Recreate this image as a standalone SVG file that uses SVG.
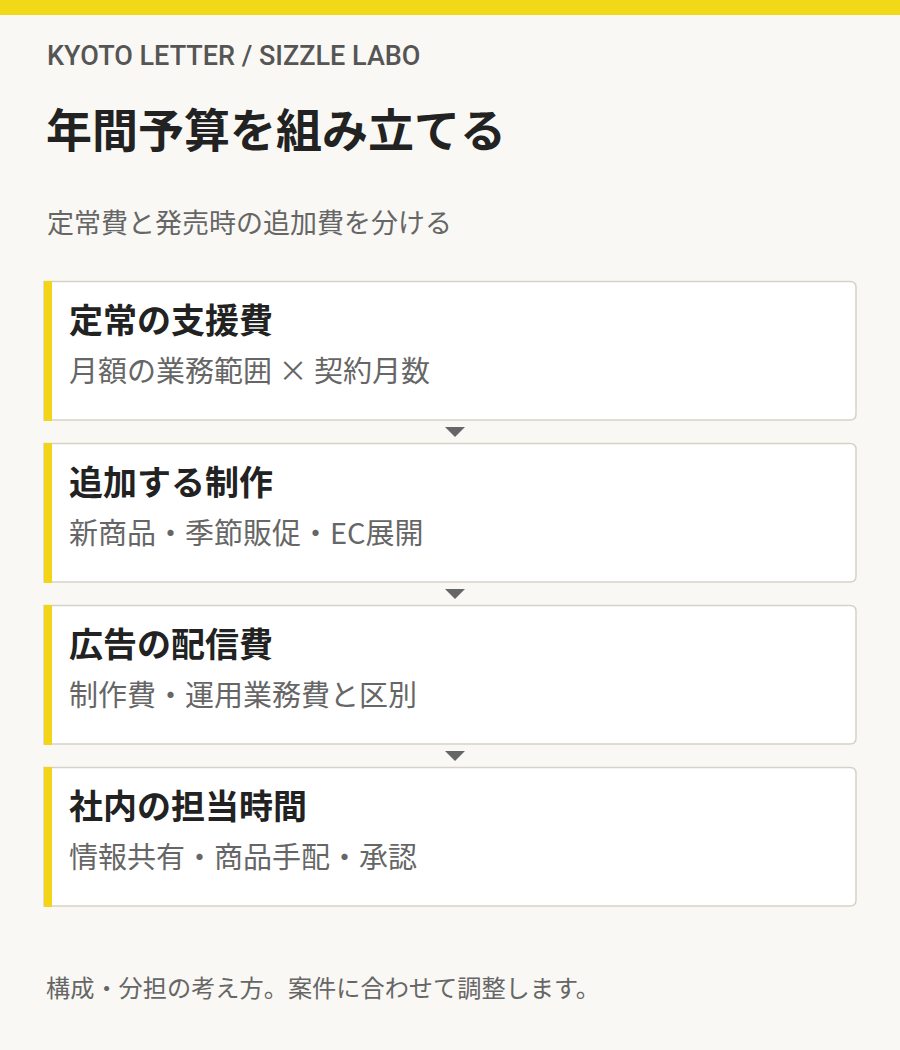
<svg xmlns="http://www.w3.org/2000/svg" width="900" height="1050" viewBox="0 0 900 1050">
<defs>
<style>
text{font-family:"Noto Sans CJK JP","Noto Sans",sans-serif}
.card{fill:#ffffff;stroke:#d5d2c8;stroke-width:1.5}
.bar{fill:#f2d418}
.ttl{font-size:34px;font-weight:700;fill:#222222}
.sub{font-size:29px;fill:#666666}
.arr{fill:#666666}
</style>
</defs>
<rect width="900" height="1050" fill="#f9f8f4"/>
<rect width="900" height="15" fill="#f2d918"/>
<text x="47" y="65" style="font-family:Roboto,'Noto Sans',sans-serif;font-size:27px;font-weight:500;fill:#555555">KYOTO LETTER / SIZZLE LABO</text>
<text x="46" y="147" style="font-size:46px;font-weight:700;fill:#222222">年間予算を組み立てる</text>
<text x="47" y="233" style="font-size:27px;fill:#666666">定常費と発売時の追加費を分ける</text>
<g id="connectors">
<path class="arr" d="M445 427 L465 427 L455 437 Z"/>
<path class="arr" d="M445 589 L465 589 L455 599 Z"/>
<path class="arr" d="M445 751 L465 751 L455 761 Z"/>
</g>
<g id="node1">
<path class="card" d="M44 281.5 H850 Q856 281.5 856 287.5 V414 Q856 420 850 420 H44 Z"/>
<rect class="bar" x="44" y="281" width="8" height="140"/>
<text class="ttl" x="69" y="333">定常の支援費</text>
<text class="sub" x="69" y="382">月額の業務範囲 × 契約月数</text>
</g>
<g id="node2">
<path class="card" d="M44 443.5 H850 Q856 443.5 856 449.5 V576 Q856 582 850 582 H44 Z"/>
<rect class="bar" x="44" y="443" width="8" height="140"/>
<text class="ttl" x="69" y="495">追加する制作</text>
<text class="sub" x="69" y="544">新商品・季節販促・EC展開</text>
</g>
<g id="node3">
<path class="card" d="M44 605.5 H850 Q856 605.5 856 611.5 V738 Q856 744 850 744 H44 Z"/>
<rect class="bar" x="44" y="605" width="8" height="140"/>
<text class="ttl" x="69" y="657">広告の配信費</text>
<text class="sub" x="69" y="706">制作費・運用業務費と区別</text>
</g>
<g id="node4">
<path class="card" d="M44 767.5 H850 Q856 767.5 856 773.5 V900 Q856 906 850 906 H44 Z"/>
<rect class="bar" x="44" y="767" width="8" height="140"/>
<text class="ttl" x="69" y="819">社内の担当時間</text>
<text class="sub" x="69" y="868">情報共有・商品手配・承認</text>
</g>
<text x="46" y="997" style="font-size:24.2px;fill:#666666">構成・分担の考え方。案件に合わせて調整します。</text>
</svg>
